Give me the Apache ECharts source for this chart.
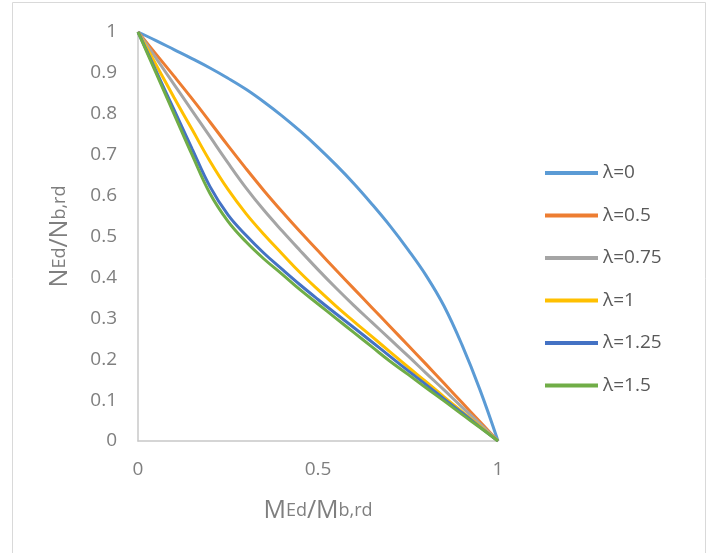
<!DOCTYPE html>
<html style="height: 100%; margin: 0">
<head>
<meta charset="UTF-8">
<title>N-M interaction</title>
</head>
<body style="height: 100%; margin: 0">
<div id="container" style="height:100%"></div>
<script type="text/javascript" src="https://cdn.jsdelivr.net/npm/echarts@6/dist/echarts.min.js"></script>
<script type="text/javascript">
	// MEd/Mb,rd values shared by every curve
	var mVals = [0, 0.05, 0.1, 0.15, 0.2, 0.25, 0.3, 0.35, 0.4, 0.45, 0.5, 0.55, 0.6, 0.65, 0.7, 0.75, 0.8, 0.85, 0.9, 0.95, 1];
	// NEd/Nb,rd for each lambda
	var lam0   = [1, 0.979, 0.957, 0.935, 0.912, 0.887, 0.86, 0.829, 0.795, 0.758, 0.718, 0.675, 0.629, 0.579, 0.526, 0.468, 0.405, 0.33, 0.235, 0.125, 0];
	var lam05  = [1, 0.946, 0.892, 0.837, 0.78, 0.722, 0.666, 0.612, 0.561, 0.512, 0.465, 0.418, 0.372, 0.326, 0.28, 0.234, 0.188, 0.141, 0.094, 0.047, 0];
	var lam075 = [1, 0.936, 0.872, 0.808, 0.744, 0.68, 0.619, 0.564, 0.514, 0.466, 0.419, 0.374, 0.331, 0.29, 0.249, 0.208, 0.166, 0.125, 0.083, 0.042, 0];
	var lam1   = [1, 0.92, 0.84, 0.762, 0.684, 0.615, 0.556, 0.505, 0.458, 0.412, 0.37, 0.33, 0.292, 0.255, 0.218, 0.181, 0.145, 0.108, 0.072, 0.036, 0];
	var lam125 = [1, 0.905, 0.81, 0.715, 0.622, 0.553, 0.503, 0.459, 0.42, 0.382, 0.346, 0.311, 0.277, 0.242, 0.207, 0.172, 0.138, 0.103, 0.069, 0.034, 0];
	var lam15  = [1, 0.90, 0.80, 0.70, 0.605, 0.537, 0.487, 0.445, 0.408, 0.37, 0.335, 0.3, 0.265, 0.23, 0.195, 0.163, 0.13, 0.098, 0.065, 0.033, 0];
	var names  = ['λ=0', 'λ=0.5', 'λ=0.75', 'λ=1', 'λ=1.25', 'λ=1.5'];
	var colors = ['#5B9BD5', '#ED7D31', '#A5A5A5', '#FFC000', '#4472C4', '#70AD47'];
	var xTicks = [0, 0.5, 1];
	var yTicks = [0, 0.1, 0.2, 0.3, 0.4, 0.5, 0.6, 0.7, 0.8, 0.9, 1];

	var allY = [lam0, lam05, lam075, lam1, lam125, lam15];
	var series = [];
	for (var s = 0; s < allY.length; s++) {
		var pts = [];
		for (var i = 0; i < mVals.length; i++) {
			pts.push([mVals[i], allY[s][i]]);
		}
		series.push({
			name: names[s],
			type: 'line',
			smooth: 0.4,
			symbol: 'none',
			lineStyle: { width: 3, color: colors[s] },
			itemStyle: { color: colors[s] },
			data: pts
		});
	}

	var font = 'Open Sans';
	var dom = document.getElementById("container");
	var myChart = echarts.init(dom);
	var option = {
		animation: false,
		grid: { left: 138, right: 214, top: 32, bottom: 112 },
		graphic: [{
			type: 'rect',
			shape: { x: 12.5, y: 2.5, width: 693, height: 580 },
			style: { fill: 'none', stroke: '#d9d9d9', lineWidth: 1 },
			silent: true
		}],
		legend: {
			orient: 'vertical',
			left: 545,
			top: 163,
			padding: 0,
			icon: 'rect',
			itemWidth: 53,
			itemHeight: 4,
			itemGap: 22.5,
			textStyle: { fontFamily: font, fontSize: 19, color: '#595959', lineHeight: 20 },
			data: names
		},
		xAxis: {
			type: 'value',
			min: 0,
			max: 1,
			interval: 0.5,
			name: '{a|M}{b|Ed}{a|/M}{b|b,rd}',
			nameLocation: 'middle',
			nameGap: 57,
			nameTextStyle: {
				rich: {
					a: { fontFamily: font, fontSize: 25, color: '#7f7f7f' },
					b: { fontFamily: font, fontSize: 18, color: '#7f7f7f' }
				}
			},
			axisLine: { lineStyle: { color: '#c8c8c8', width: 1.5 } },
			axisTick: { show: false },
			splitLine: { show: false },
			axisLabel: {
				margin: 19,
				fontFamily: font,
				fontSize: 19,
				color: '#7f7f7f',
				formatter: function (v) { return xTicks.indexOf(v) >= 0 ? String(v) : ''; }
			}
		},
		yAxis: {
			type: 'value',
			min: 0,
			max: 1,
			interval: 0.1,
			name: '{a|N}{b|Ed}{a|/N}{b|b,rd}',
			nameLocation: 'middle',
			nameGap: 66,
			nameTextStyle: {
				rich: {
					a: { fontFamily: font, fontSize: 25, color: '#7f7f7f' },
					b: { fontFamily: font, fontSize: 18, color: '#7f7f7f' }
				}
			},
			axisLine: { show: true, lineStyle: { color: '#c8c8c8', width: 1.5 } },
			axisTick: { show: false },
			splitLine: { show: false },
			axisLabel: {
				margin: 21,
				fontFamily: font,
				fontSize: 19,
				color: '#7f7f7f',
				formatter: function (v) {
					var r = Math.round(v * 10) / 10;
					return yTicks.indexOf(r) >= 0 ? String(r) : '';
				}
			}
		},
		series: series
	};
	myChart.setOption(option, true);
</script>
</body>
</html>
